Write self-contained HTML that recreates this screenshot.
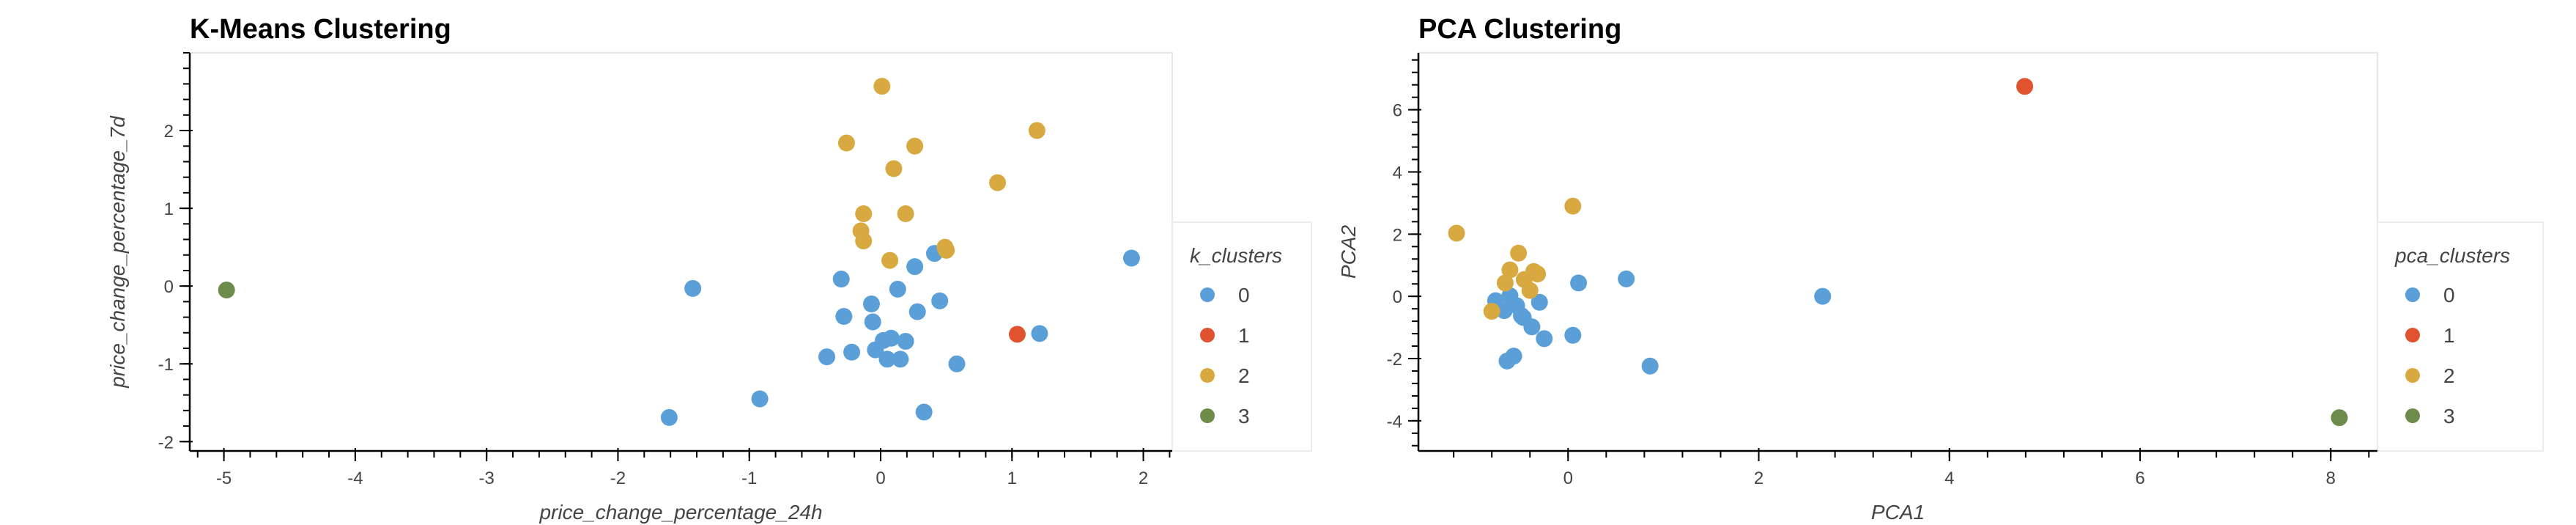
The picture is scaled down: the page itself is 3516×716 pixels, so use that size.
<!DOCTYPE html>
<html><head><meta charset="utf-8"><style>
html,body{margin:0;padding:0;background:#fff;}
svg{display:block;font-family:"Liberation Sans",sans-serif;}
</style></head><body>
<svg id="chart" width="3516" height="716" viewBox="0 0 3516 716" xmlns="http://www.w3.org/2000/svg"></svg>
<script>
// ---- K-Means data ----
const kmX0 = [1.91,0.41,0.26,-0.30,-1.43,0.13,0.45,-0.07,0.28,-0.28,-0.06,1.21,0.02,0.08,0.19,-0.04,-0.22,-0.41,0.05,0.15,0.58,-0.92,0.33,-1.61];
const kmY0 = [0.36,0.42,0.25,0.09,-0.03,-0.04,-0.19,-0.23,-0.33,-0.39,-0.46,-0.61,-0.70,-0.67,-0.71,-0.82,-0.85,-0.91,-0.94,-0.94,-1.00,-1.45,-1.62,-1.69];
const kmX1 = [1.04];
const kmY1 = [-0.62];
const kmX2 = [0.01,1.19,-0.26,0.26,0.10,0.89,-0.13,0.19,-0.15,-0.13,0.50,0.49,0.07];
const kmY2 = [2.57,2.00,1.84,1.80,1.51,1.33,0.93,0.93,0.71,0.58,0.46,0.50,0.33];
const kmX3 = [-4.98];
const kmY3 = [-0.05];
const kmXTicks = [-5,-4,-3,-2,-1,0,1,2];
const kmYTicks = [-2,-1,0,1,2];
// ---- PCA data ----
const pcX0 = [2.67,0.61,0.11,-0.76,-0.30,-0.61,-0.67,-0.47,-0.38,-0.25,0.05,-0.57,-0.64,0.86,-0.54,-0.49];
const pcY0 = [0.00,0.56,0.43,-0.14,-0.19,0.02,-0.46,-0.68,-0.98,-1.36,-1.25,-1.92,-2.08,-2.24,-0.30,-0.62];
const pcX1 = [4.79];
const pcY1 = [6.75];
const pcX2 = [-1.17,0.05,-0.52,-0.61,-0.66,-0.32,-0.36,-0.46,-0.40,-0.80];
const pcY2 = [2.03,2.90,1.39,0.85,0.43,0.72,0.80,0.54,0.19,-0.48];
const pcX3 = [8.09];
const pcY3 = [-3.90];
const pcXTicks = [0,2,4,6,8];
const pcYTicks = [-4,-2,0,2,4,6];
const clusterLabels = ["0","1","2","3"];

const COLORS = ["#5b9fd8","#e1522f","#d8a941","#6d8c4b"];
const NS = "http://www.w3.org/2000/svg";
const svg = document.getElementById('chart');
function mk(tag, attrs, parent, text){
  const e = document.createElementNS(NS, tag);
  for (const k in attrs) e.setAttribute(k, attrs[k]);
  if (text !== undefined) e.textContent = text;
  (parent || svg).appendChild(e);
  return e;
}

function drawPanel(cfg){
  const g = mk('g', {});
  
  
  const L=cfg.left, R=cfg.right, T=72, B=615;
  const sx = v => L + (v - cfg.xmin) / (cfg.xmax - cfg.xmin) * (R - L);
  const sy = v => B - (v - cfg.ymin) / (cfg.ymax - cfg.ymin) * (B - T);
  const fr = mk('rect', {x:L, y:T, width:R-L, height:B-T, fill:'#fff', stroke:'#e6e6e6', 'stroke-width':2}, g);
  
  
  const tt = mk('text', {x:L, y:52, 'font-size':38, 'font-weight':'bold', fill:'#000'}, g, cfg.title);
  
  
  const lg = mk('g', {}, g);
  
  
  mk('rect', {x:R, y:303, width:cfg.legW, height:312, fill:'#fff', stroke:'#ececec', 'stroke-width':2}, lg);
  const lt = mk('text', {x:R+24, y:358, 'font-size':28, 'font-style':'italic', fill:'#444'}, lg, cfg.legTitle);
  
  
  clusterLabels.forEach((lab, i) => {
    const ent = mk('g', {}, lg);
    
    
    mk('circle', {cx:R+48, cy:402+i*55, r:10, fill:COLORS[i]}, ent);
    mk('text', {x:R+90, y:412+i*55, 'font-size':28, fill:'#444'}, ent, lab);
  });
  cfg.series.forEach((s, ci) => {
    s[0].forEach((xv, j) => {
      const c = mk('circle', {cx:sx(xv), cy:sy(s[1][j]), r:11.5, fill:COLORS[ci]}, g);
      
      
    });
  });
  const xa = mk('g', {}, g);
  
  
  mk('line', {x1:L, y1:B, x2:R, y2:B, stroke:'#000', 'stroke-width':2.5}, xa);
  const xstep = cfg.xTicks[1]-cfg.xTicks[0];
  for (let v = cfg.xTicks[0] - xstep; v <= cfg.xmax + 1e-9; v += xstep/cfg.xMinor){
    if (v < cfg.xmin - 1e-9) continue;
    mk('line', {x1:sx(v), y1:B, x2:sx(v), y2:B+9, stroke:'#000', 'stroke-width':2}, xa);
  }
  cfg.xTicks.forEach(v => {
    mk('line', {x1:sx(v), y1:B-4, x2:sx(v), y2:B+14, stroke:'#000', 'stroke-width':2}, xa);
    const t = mk('text', {x:sx(v), y:660, 'font-size':24, 'text-anchor':'middle', fill:'#444'}, xa, String(v));
    
    
  });
  const xl = mk('text', {x:(L+R)/2, y:708, 'font-size':28, 'font-style':'italic', 'text-anchor':'middle', fill:'#444'}, xa, cfg.xLabel);
  
  

  const ya = mk('g', {}, g);
  
  
  mk('line', {x1:L, y1:T, x2:L, y2:B, stroke:'#000', 'stroke-width':2.5}, ya);
  const ystep = cfg.yTicks[1]-cfg.yTicks[0];
  for (let v = cfg.yTicks[0] - ystep; v <= cfg.ymax + 1e-9; v += ystep/cfg.yMinor){
    if (v < cfg.ymin - 1e-9) continue;
    mk('line', {x1:L-9, y1:sy(v), x2:L, y2:sy(v), stroke:'#000', 'stroke-width':2}, ya);
  }
  cfg.yTicks.forEach(v => {
    mk('line', {x1:L-14, y1:sy(v), x2:L+4, y2:sy(v), stroke:'#000', 'stroke-width':2}, ya);
    const t = mk('text', {x:L-22, y:sy(v)+9, 'font-size':24, 'text-anchor':'end', fill:'#444'}, ya, String(v));
    
    
  });
  const yl = mk('text', {x:0, y:0, 'font-size':28, 'font-style':'italic', 'text-anchor':'middle', fill:'#444',
    transform:'translate(' + cfg.yLabelX + ',' + (T+B)/2 + ') rotate(-90)'}, ya, cfg.yLabel);
  
  
}

drawPanel({name:'kmeans-panel', title:'K-Means Clustering', left:259, right:1600, legW:190,
  xmin:-5.26, xmax:2.22, ymin:-2.12, ymax:3.0, xTicks:kmXTicks, yTicks:kmYTicks, xMinor:5, yMinor:5,
  xLabel:'price_change_percentage_24h', yLabel:'price_change_percentage_7d', yLabelX:170,
  legTitle:'k_clusters',
  series:[[kmX0,kmY0],[kmX1,kmY1],[kmX2,kmY2],[kmX3,kmY3]]});
drawPanel({name:'pca-panel', title:'PCA Clustering', left:1936, right:3245, legW:226,
  xmin:-1.57, xmax:8.49, ymin:-4.97, ymax:7.83, xTicks:pcXTicks, yTicks:pcYTicks, xMinor:5, yMinor:5,
  xLabel:'PCA1', yLabel:'PCA2', yLabelX:1850,
  legTitle:'pca_clusters',
  series:[[pcX0,pcY0],[pcX1,pcY1],[pcX2,pcY2],[pcX3,pcY3]]});
</script>
</body></html>
